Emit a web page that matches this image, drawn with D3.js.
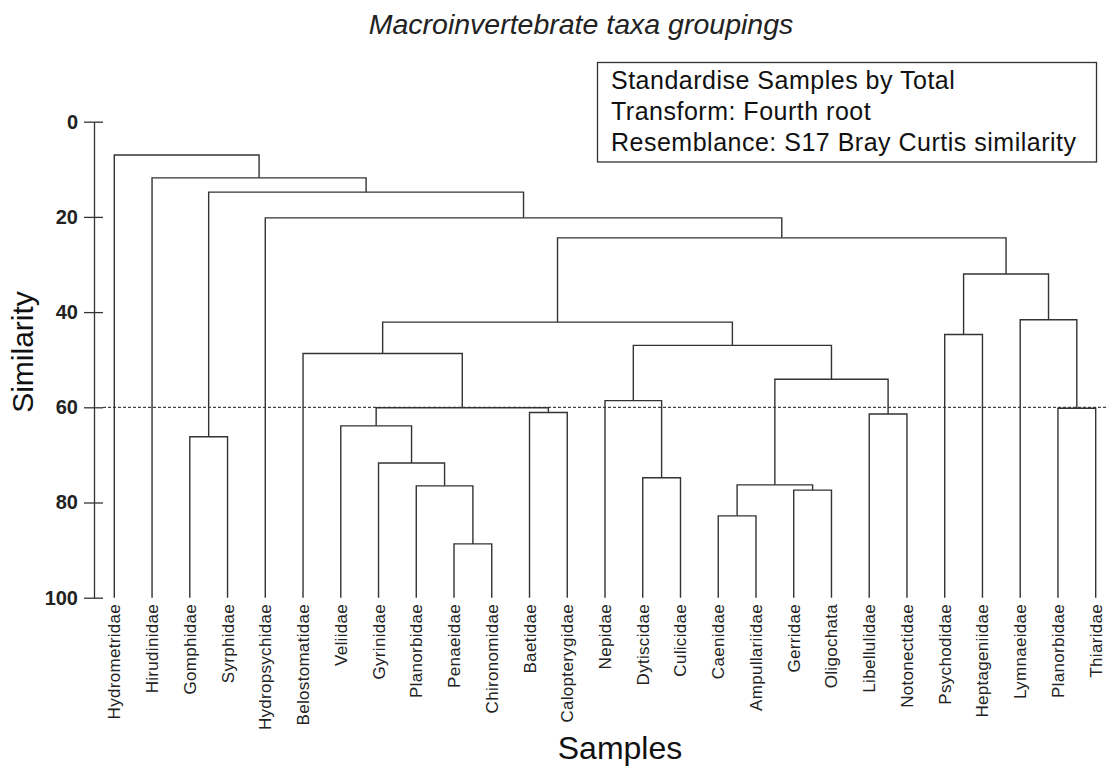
<!DOCTYPE html>
<html>
<head>
<meta charset="utf-8">
<script src="https://cdn.jsdelivr.net/npm/d3@7"></script>
<style>
  html, body { margin: 0; padding: 0; background: #fff; }
  svg { display: block; font-family: Arial, "Liberation Sans", sans-serif; }
</style>
</head>
<body>
<svg id="chart" width="1110" height="771"></svg>
<script>
// Leaf taxa in dendrogram order
const taxa = [
  "Hydrometridae", "Hirudinidae", "Gomphidae", "Syrphidae", "Hydropsychidae",
  "Belostomatidae", "Veliidae", "Gyrinidae", "Planorbidae", "Penaeidae",
  "Chironomidae", "Baetidae", "Calopterygidae", "Nepidae", "Dytiscidae",
  "Culicidae", "Caenidae", "Ampullariidae", "Gerridae", "Oligochata",
  "Libellulidae", "Notonectidae", "Psychodidae", "Heptageniidae", "Lymnaeidae",
  "Planorbidae", "Thiaridae"
];

// Agglomeration steps: [left, right, similarity %].
// Indices below taxa.length are leaves; higher indices point to earlier steps
// (taxa.length + step number).
const merges = [
  [9, 10, 88.7],
  [16, 17, 82.8],
  [18, 19, 77.4],
  [8, 27, 76.5],
  [28, 29, 76.3],
  [14, 15, 74.8],
  [7, 30, 71.7],
  [2, 3, 66.2],
  [6, 33, 63.9],
  [20, 21, 61.4],
  [11, 12, 61.1],
  [25, 26, 60.2],
  [35, 37, 60.1],
  [13, 32, 58.6],
  [31, 36, 54.1],
  [5, 39, 48.7],
  [40, 41, 47.0],
  [22, 23, 44.7],
  [42, 43, 42.1],
  [24, 38, 41.6],
  [44, 46, 32.0],
  [45, 47, 24.4],
  [4, 48, 20.2],
  [34, 49, 14.8],
  [1, 50, 11.8],
  [0, 51, 7.0]
];

const similarityTicks = [0, 20, 40, 60, 80, 100];
const cutLevel = 60;

const titleText = "Macroinvertebrate taxa groupings";
const legendLines = [
  "Standardise Samples by Total",
  "Transform: Fourth root",
  "Resemblance: S17 Bray Curtis similarity"
];

// ---- build the tree ----
const nodes = taxa.map((name, i) => ({ id: "leaf" + i, name, index: i, similarity: 100 }));
merges.forEach(([a, b, s], k) => {
  nodes.push({ id: "node" + k, similarity: s, children: [nodes[a], nodes[b]] });
});
const root = d3.hierarchy(nodes[nodes.length - 1]);

const svg = d3.select("#chart");
const ink = "#333";

const x = d3.scalePoint()
  .domain(d3.range(taxa.length))
  .range([114.3, 1095.7]);

const y = d3.scaleLinear()
  .domain([0, 100])
  .range([121.7, 597.7]);

// positions: leaves on the point scale, joins centred over their two branches
root.eachAfter(n => {
  n.py = y(n.data.similarity);
  n.px = n.children ? d3.mean(n.children, c => c.px) : x(n.data.index);
});

// ---- title ----
svg.append("text")
  .attr("x", 581).attr("y", 34)
  .attr("text-anchor", "middle")
  .attr("font-size", 28.5).attr("font-style", "italic")
  .attr("fill", "#222")
  .text(titleText);

// ---- legend box ----
const box = svg.append("g");
box.append("rect")
  .attr("x", 597.5).attr("y", 62.5)
  .attr("width", 499).attr("height", 99.5)
  .attr("fill", "#fff").attr("stroke", ink).attr("stroke-width", 1.3);
box.selectAll("text").data(legendLines).join("text")
  .attr("x", 611)
  .attr("y", (d, i) => 89 + i * 31)
  .attr("font-size", 25)
  .attr("letter-spacing", 0.5)
  .attr("fill", "#111")
  .text(d => d);

// ---- y axis ----
const axis = svg.append("g")
  .attr("transform", "translate(94,0)")
  .call(d3.axisLeft(y).tickValues(similarityTicks).tickSize(10).tickSizeOuter(0).tickPadding(6));
axis.select(".domain").attr("stroke", ink).attr("stroke-width", 1.3);
axis.selectAll(".tick line").attr("stroke", ink).attr("stroke-width", 1.3).attr("x2", -10);
axis.selectAll(".tick").append("line")
  .attr("x1", 0).attr("x2", 9)
  .attr("stroke", ink).attr("stroke-width", 1.3);
axis.selectAll(".tick text")
  .attr("font-size", 20).attr("font-weight", "bold")
  .attr("font-family", "Arial, 'Liberation Sans', sans-serif")
  .attr("fill", "#222");

svg.append("text")
  .attr("transform", `translate(33,352) rotate(-90)`)
  .attr("text-anchor", "middle")
  .attr("font-size", 30)
  .attr("fill", "#111")
  .text("Similarity");

// ---- cut line ----
svg.append("line")
  .attr("x1", 103).attr("x2", 1108)
  .attr("y1", y(cutLevel)).attr("y2", y(cutLevel))
  .attr("stroke", "#444").attr("stroke-width", 1.2)
  .attr("stroke-dasharray", "3,2");

// ---- dendrogram branches ----
const internal = root.descendants().filter(n => n.children);
svg.append("g")
  .attr("fill", "none").attr("stroke", ink).attr("stroke-width", 1.4)
  .selectAll("path").data(internal).join("path")
  .attr("d", n => {
    const [a, b] = n.children;
    return `M${a.px},${a.py}V${n.py}H${b.px}V${b.py}`;
  });

// ---- leaf labels ----
svg.append("g")
  .selectAll("text").data(root.leaves()).join("text")
  .attr("transform", n => `translate(${n.px + 6},604) rotate(-90)`)
  .attr("text-anchor", "end")
  .attr("font-size", 17)
  .attr("letter-spacing", 0.3)
  .attr("fill", "#222")
  .text(n => n.data.name);

svg.append("text")
  .attr("x", 620).attr("y", 759)
  .attr("text-anchor", "middle")
  .attr("font-size", 32)
  .attr("fill", "#111")
  .text("Samples");
</script>
</body>
</html>
